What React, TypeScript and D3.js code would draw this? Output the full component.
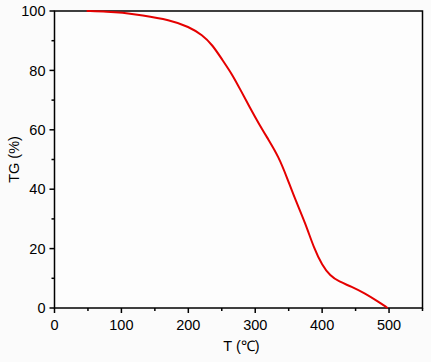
import React, { useRef, useEffect } from 'react';
import * as d3 from 'd3';

// temperature (°C) and TG (%)
const temps = [48, 80, 100, 130, 172, 201, 221, 236, 251, 266, 278, 292, 305, 320, 335, 347, 360, 375, 388, 400, 412, 425, 444, 464, 484, 498];
const tgValues = [100, 99.8, 99.5, 98.6, 97.0, 94.7, 91.9, 88.6, 83.5, 78.5, 73.4, 67.5, 62.2, 56.6, 50.9, 44.2, 36.4, 28.5, 20.0, 14.4, 10.8, 8.9, 7.2, 4.9, 2.1, 0];
const xTicks = [0, 100, 200, 300, 400, 500];
const yTicks = [0, 20, 40, 60, 80, 100];

const W = 431;
const H = 362;

const App = () => {
  const svgRef = useRef(null);
  const margin = { top: 11, right: 8.5, bottom: 54, left: 54.5 };

  useEffect(() => {
    const svg = d3.select(svgRef.current);
    svg.selectAll('*').remove();

    const x = d3.scaleLinear().domain([0, 550]).range([margin.left, W - margin.right]);
    const y = d3.scaleLinear().domain([0, 100]).range([H - margin.bottom, margin.top]);

    svg.append('rect').attr('width', W).attr('height', H).attr('fill', '#fbfbfb');

    // frame
    svg.append('rect')
      .attr('x', x(0)).attr('y', y(100))
      .attr('width', x(550) - x(0)).attr('height', y(0) - y(100))
      .attr('fill', '#fdfdfd').attr('stroke', '#000').attr('stroke-width', 1.5);

    const font = 'Liberation Sans, Arial, sans-serif';

    // x ticks
    d3.range(0, 551, 50).forEach(v => {
      const major = v % 100 === 0;
      svg.append('line')
        .attr('x1', x(v)).attr('x2', x(v))
        .attr('y1', y(0)).attr('y2', y(0) + (major ? 5 : 3))
        .attr('stroke', '#000').attr('stroke-width', 1.5);
    });
    svg.selectAll('text.xt').data(xTicks).join('text')
      .attr('class', 'xt')
      .attr('x', d => x(d)).attr('y', y(0) + 22)
      .attr('text-anchor', 'middle')
      .attr('font-family', font).attr('font-size', 14.5).attr('fill', '#000')
      .text(d => d);

    // y ticks
    d3.range(0, 101, 10).forEach(v => {
      const major = v % 20 === 0;
      svg.append('line')
        .attr('x1', x(0) - (major ? 5 : 3)).attr('x2', x(0))
        .attr('y1', y(v)).attr('y2', y(v))
        .attr('stroke', '#000').attr('stroke-width', 1.5);
    });
    svg.selectAll('text.yt').data(yTicks).join('text')
      .attr('class', 'yt')
      .attr('x', x(0) - 9).attr('y', d => y(d))
      .attr('dy', '0.36em')
      .attr('text-anchor', 'end')
      .attr('font-family', font).attr('font-size', 14.5).attr('fill', '#000')
      .text(d => d);

    // curve
    const pts = temps.map((t, i) => [t, tgValues[i]]);
    const line = d3.line()
      .x(d => x(d[0]))
      .y(d => y(d[1]))
      .curve(d3.curveBasis);
    svg.append('path')
      .datum(pts)
      .attr('d', line)
      .attr('fill', 'none')
      .attr('stroke', '#e50000')
      .attr('stroke-width', 2);

    // axis labels
    svg.append('text')
      .attr('x', (x(0) + x(550)) / 2 + 3).attr('y', H - 11)
      .attr('text-anchor', 'middle')
      .attr('font-family', font).attr('font-size', 14.5).attr('fill', '#000')
      .text('T (℃)');

    svg.append('text')
      .attr('transform', `translate(19, ${(y(0) + y(100)) / 2}) rotate(-90)`)
      .attr('text-anchor', 'middle')
      .attr('font-family', font).attr('font-size', 14.5).attr('fill', '#000')
      .text('TG (%)');
  }, []);

  return (
    <svg
      ref={svgRef}
      width={W}
      height={H}
      style={{ position: 'fixed', left: 0, top: 0, display: 'block' }}
    />
  );
};

export default App;
